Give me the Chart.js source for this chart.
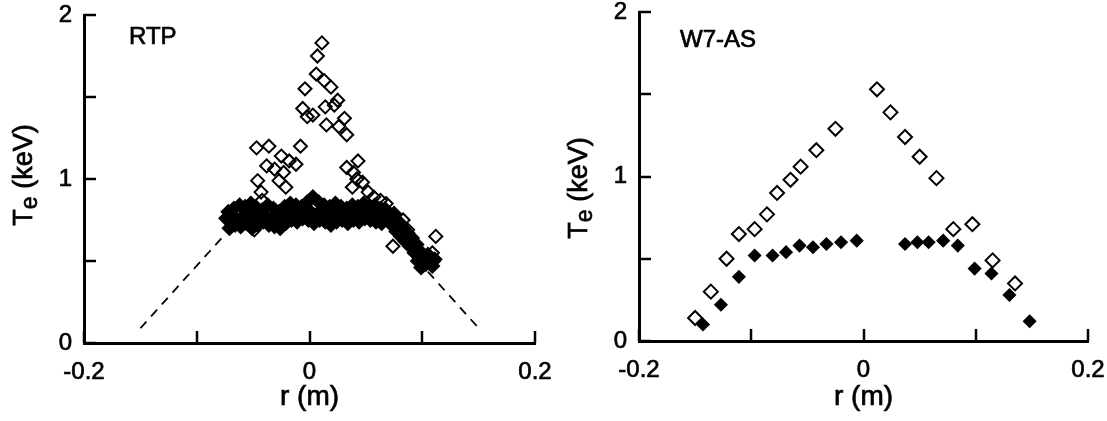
<!DOCTYPE html>
<html>
<head>
<meta charset="utf-8">
<title>Te profiles RTP / W7-AS</title>
<script src="https://cdn.jsdelivr.net/npm/chart.js@4.4.1/dist/chart.umd.min.js"></script>
<style>
  body { margin: 0; background: #fff; width: 1107px; height: 421px; position: relative; overflow: hidden; }
  canvas { position: absolute; top: 0; }
  #rtp { left: 0; }
  #w7as { left: 554px; }
</style>
</head>
<body>
<canvas id="rtp" width="554" height="421"></canvas>
<canvas id="w7as" width="553" height="421"></canvas>
<script>
// RTP: off-axis ECRH (open) and central ECRH (filled), r in m, Te in keV
const rtpOpenR = [0.011, 0.007, 0.006, 0.013, 0.019, -0.004, 0.025, -0.006, 0.003, 0.014, 0.022, -0.002, 0.031, 0.015, 0.026, 0.033,
  -0.047, -0.036, -0.008, -0.025, -0.018, -0.012, -0.038, -0.031, -0.023, -0.046, -0.027, -0.021, -0.043, -0.042, -0.049,
  0.043, 0.033, 0.039, 0.042, 0.047, 0.038, 0.052, 0.057, 0.063, 0.068, 0.083, 0.087, 0.112, 0.074, 0.109, 0.110];
const rtpOpenT = [1.83, 1.75, 1.64, 1.60, 1.56, 1.55, 1.48, 1.43, 1.39, 1.44, 1.45, 1.38, 1.37, 1.33, 1.32, 1.27,
  1.19, 1.20, 1.20, 1.14, 1.11, 1.09, 1.08, 1.06, 1.04, 0.99, 0.99, 0.95, 0.92, 0.87, 0.69,
  1.11, 1.07, 1.04, 1.00, 0.98, 0.95, 0.92, 0.89, 0.87, 0.85, 0.75, 0.69, 0.65, 0.59, 0.55, 0.50];

const rtpFilledR = [
  -0.072, -0.067, -0.062, -0.057, -0.052, -0.047, -0.042, -0.037, -0.032, -0.027, -0.022, -0.017, -0.012, -0.007, -0.002,
  0.003, 0.008, 0.013, 0.018, 0.023, 0.028, 0.033, 0.038, 0.043, 0.048, 0.053, 0.058, 0.063, 0.068,
  -0.074, -0.069, -0.064, -0.059, -0.054, -0.049, -0.044, -0.039, -0.034, -0.029, -0.024, -0.019, -0.014, -0.009, -0.004,
  0.001, 0.006, 0.011, 0.016, 0.021, 0.026, 0.031, 0.036, 0.041, 0.046, 0.051, 0.056, 0.061, 0.066, 0.071,
  -0.071, -0.066, -0.061, -0.056, -0.051, -0.046, -0.041, -0.036, -0.031, -0.026, -0.021, -0.016, -0.011, -0.006, -0.001,
  0.004, 0.009, 0.014, 0.019, 0.024, 0.029, 0.034, 0.039, 0.044, 0.049, 0.054, 0.059, 0.064,
  0.073, 0.075, 0.077, 0.079, 0.081, 0.083, 0.085, 0.087, 0.089, 0.091, 0.093, 0.095, 0.096, 0.098, 0.099,
  0.101, 0.103, 0.105, 0.107, 0.109, 0.111];
const rtpFilledT = [
  0.80, 0.82, 0.84, 0.83, 0.85, 0.82, 0.81, 0.84, 0.82, 0.80, 0.83, 0.85, 0.84, 0.83, 0.86,
  0.89, 0.86, 0.84, 0.83, 0.85, 0.83, 0.82, 0.84, 0.83, 0.85, 0.83, 0.84, 0.82, 0.81,
  0.76, 0.78, 0.75, 0.77, 0.79, 0.76, 0.78, 0.77, 0.75, 0.77, 0.79, 0.78, 0.80, 0.79, 0.81,
  0.80, 0.78, 0.79, 0.80, 0.78, 0.79, 0.80, 0.78, 0.79, 0.80, 0.78, 0.77, 0.79, 0.77, 0.76,
  0.70, 0.72, 0.71, 0.73, 0.70, 0.72, 0.74, 0.72, 0.71, 0.70, 0.73, 0.75, 0.74, 0.76, 0.75,
  0.73, 0.75, 0.74, 0.72, 0.74, 0.75, 0.73, 0.75, 0.74, 0.76, 0.75, 0.74, 0.73,
  0.72, 0.79, 0.68, 0.74, 0.65, 0.70, 0.62, 0.67, 0.59, 0.64, 0.55, 0.60, 0.50, 0.56, 0.46,
  0.52, 0.48, 0.54, 0.50, 0.47, 0.51];

// dashed guide lines on the RTP edge
const rtpDashLeftR = [-0.150, -0.074];
const rtpDashLeftT = [0.09, 0.67];
const rtpDashRightR = [0.105, 0.151];
const rtpDashRightT = [0.435, 0.083];

// W7-AS profiles
const w7OpenR = [-0.150, -0.136, -0.122, -0.111, -0.097, -0.086, -0.077, -0.065, -0.056, -0.042, -0.025,
  0.012, 0.024, 0.037, 0.050, 0.065, 0.080, 0.097, 0.115, 0.135];
const w7OpenT = [0.14, 0.30, 0.50, 0.65, 0.68, 0.77, 0.90, 0.98, 1.06, 1.16, 1.29,
  1.53, 1.39, 1.24, 1.12, 0.99, 0.68, 0.71, 0.49, 0.35];
const w7FilledR = [-0.143, -0.127, -0.111, -0.097, -0.081, -0.069, -0.057, -0.045, -0.033, -0.020, -0.006,
  0.037, 0.048, 0.058, 0.071, 0.084, 0.099, 0.114, 0.130, 0.148];
const w7FilledT = [0.10, 0.22, 0.39, 0.52, 0.52, 0.54, 0.58, 0.57, 0.59, 0.60, 0.61,
  0.59, 0.60, 0.60, 0.61, 0.58, 0.44, 0.41, 0.28, 0.12];

const FONT = '"Liberation Sans", Arial, Helvetica, sans-serif';
const INK = 0.7;  // slight stroke so the lettering is as heavy as the printed one
Chart.defaults.font.family = FONT;
Chart.defaults.color = '#000';

const pts = (xs, ys) => xs.map((x, i) => ({ x: x, y: ys[i] }));

function inkText(ctx, text, x, y) {
  ctx.fillText(text, x, y);
  ctx.strokeText(text, x, y);
}

// inward tick marks, axis titles (Te with subscript), machine name
const framePlugin = {
  id: 'frame',
  afterDraw(chart, args, opts) {
    const ctx = chart.ctx;
    const area = chart.chartArea;
    const xs = chart.scales.x;
    const ys = chart.scales.y;
    ctx.save();
    ctx.strokeStyle = '#000';
    ctx.lineWidth = 2.5;
    xs.ticks.forEach(t => {
      const px = Math.round(xs.getPixelForValue(t.value));
      ctx.beginPath();
      ctx.moveTo(px, area.bottom);
      ctx.lineTo(px, area.bottom - 12);
      ctx.stroke();
    });
    ys.ticks.forEach(t => {
      const py = Math.round(ys.getPixelForValue(t.value));
      ctx.beginPath();
      ctx.moveTo(area.left, py);
      ctx.lineTo(area.left + 12, py);
      ctx.stroke();
    });
    ctx.restore();

    ctx.save();
    ctx.fillStyle = '#000';
    ctx.strokeStyle = '#000';
    ctx.lineWidth = INK;
    ctx.textBaseline = 'alphabetic';

    // x title
    ctx.font = '28px ' + FONT;
    ctx.textAlign = 'center';
    inkText(ctx, 'r (m)', (area.left + area.right) / 2, opts.xTitleY);
    ctx.textAlign = 'left';

    // panel name
    ctx.font = '24px ' + FONT;
    inkText(ctx, opts.name, area.left + opts.nameDx, area.top + opts.nameDy);

    // y title, rotated
    ctx.translate(opts.titleX, opts.titleY);
    ctx.rotate(-Math.PI / 2);
    const big = '27px ' + FONT;
    const sub = '23px ' + FONT;
    ctx.font = big;
    const wT = ctx.measureText('T').width;
    const wRest = ctx.measureText(' (keV)').width;
    ctx.font = sub;
    const wE = ctx.measureText('e').width;
    let x = -(wT + wE + wRest) / 2;
    ctx.font = big;
    inkText(ctx, 'T', x, 7);
    x += wT;
    ctx.font = sub;
    inkText(ctx, 'e', x, 12);
    x += wE;
    ctx.font = big;
    inkText(ctx, ' (keV)', x, 7);
    ctx.restore();
  }
};

function makePanel(id, datasets, box, frame) {
  return new Chart(document.getElementById(id), {
    type: 'scatter',
    data: { datasets: datasets },
    options: {
      responsive: false,
      animation: false,
      layout: { padding: { left: 0, top: box.top, right: box.right, bottom: 0 } },
      plugins: { legend: { display: false }, tooltip: { enabled: false }, frame: frame },
      scales: {
        x: {
          type: 'linear',
          min: -0.2,
          max: 0.2,
          grid: { display: false, drawTicks: false },
          border: { display: true, color: '#000', width: 3 },
          ticks: {
            stepSize: 0.1,
            padding: 15,
            maxRotation: 0,
            font: { size: 24 },
            textStrokeColor: '#000',
            textStrokeWidth: INK,
            callback: v => {
              const k = Math.round(v * 10);
              if (k % 2 !== 0) return '';
              return k === 0 ? '0' : (k / 10).toFixed(1);
            }
          },
          afterFit: s => { s.height = box.xHeight; s.paddingLeft = 0; s.paddingRight = 0; }
        },
        y: {
          type: 'linear',
          min: 0,
          max: 2,
          grid: { display: false, drawTicks: false },
          border: { display: true, color: '#000', width: 3 },
          ticks: {
            stepSize: 0.5,
            padding: 12,
            font: { size: 24 },
            textStrokeColor: '#000',
            textStrokeWidth: INK,
            callback: v => Number.isInteger(v) ? String(v) : ''
          },
          afterFit: s => { s.width = box.yWidth; s.paddingTop = 0; s.paddingBottom = 0; }
        }
      }
    },
    plugins: [framePlugin]
  });
}

const openStyle = { pointStyle: 'rectRot', borderColor: '#000', backgroundColor: 'rgba(0,0,0,0)', borderWidth: 2 };
const filledStyle = { pointStyle: 'rectRot', borderColor: '#000', backgroundColor: '#000', borderWidth: 1.5 };
const dashStyle = { showLine: true, pointRadius: 0, borderColor: '#000', borderWidth: 1.8, borderDash: [9, 7] };

makePanel('rtp', [
  Object.assign({ data: pts(rtpOpenR, rtpOpenT), pointRadius: 6.5 }, openStyle),
  Object.assign({ data: pts(rtpFilledR, rtpFilledT), pointRadius: 7 }, filledStyle),
  Object.assign({ data: pts(rtpDashLeftR, rtpDashLeftT) }, dashStyle),
  Object.assign({ data: pts(rtpDashRightR, rtpDashRightT) }, dashStyle)
], { top: 15, right: 19, xHeight: 78, yWidth: 84 },
   { titleX: 25, titleY: 175, xTitleY: 405, name: 'RTP', nameDx: 45, nameDy: 29 });

makePanel('w7as', [
  Object.assign({ data: pts(w7OpenR, w7OpenT), pointRadius: 7 }, openStyle),
  Object.assign({ data: pts(w7FilledR, w7FilledT), pointRadius: 6 }, filledStyle)
], { top: 12, right: 19, xHeight: 80, yWidth: 85 },
   { titleX: 26, titleY: 188, xTitleY: 405, name: 'W7-AS', nameDx: 41, nameDy: 35 });
</script>
</body>
</html>
